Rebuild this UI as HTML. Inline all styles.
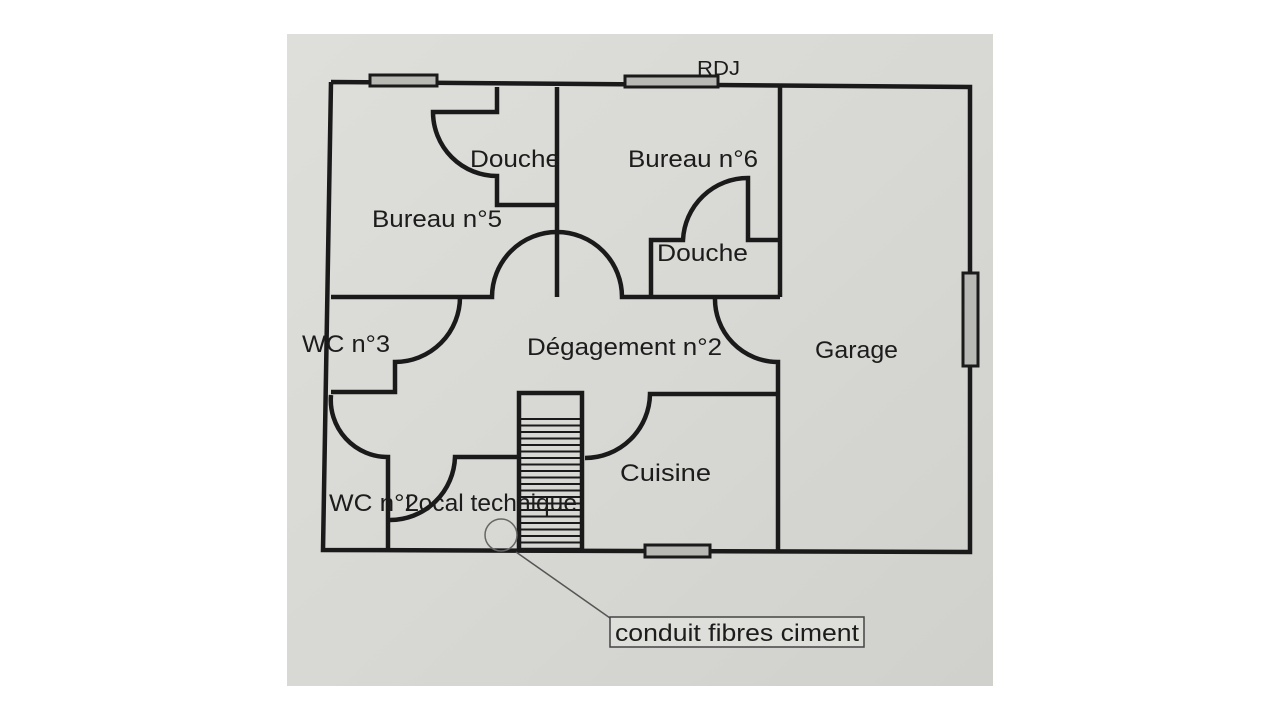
<!DOCTYPE html>
<html><head><meta charset="utf-8"><style>
html,body{margin:0;padding:0;background:#fff;width:1280px;height:720px;overflow:hidden}
svg{display:block}
text{font-family:"Liberation Sans",sans-serif;fill:#1c1c1c}
</style></head><body>
<svg width="1280" height="720" viewBox="0 0 1280 720">
<defs>
<linearGradient id="bg" x1="0" y1="0" x2="1" y2="1">
<stop offset="0" stop-color="#dededa"/><stop offset="0.5" stop-color="#d8d8d4"/><stop offset="1" stop-color="#d0d0cc"/>
</linearGradient>
</defs>
<rect x="287" y="34" width="706" height="652" fill="url(#bg)"/>
<g fill="none" stroke="#1a1a1a" stroke-width="4.5" stroke-linejoin="miter">
<path d="M331 82 L970 87 L970 552 L323 550 L331 82"/>
<path d="M557 87 L557 297"/>
<path d="M497 87 L497 112 L433 112 A64 64 0 0 0 497 176 L497 205 L557 205"/>
<path d="M331 297 L492 297 A65 65 0 0 1 622 297 L780 297"/>
<path d="M780 87 L780 297"/>
<path d="M651 297 L651 240 L683 240 A65 65 0 0 1 748 178 L748 240 L780 240"/>
<path d="M460 297 A65 65 0 0 1 395 362 L395 392 L331 392"/>
<path d="M715 297 A63 63 0 0 0 778 362 L778 552"/>
<path d="M331 395 A57 57 0 0 0 388 457 L388 550"/>
<path d="M518 457 L455 457 A65 65 0 0 1 390 520"/>
<rect x="519" y="393" width="63" height="157"/>
<path d="M777 394 L650 394 A65 65 0 0 1 585 458"/>
</g>
<g stroke="#1a1a1a" stroke-width="2">
<line x1="521" y1="419" x2="580" y2="419"/><line x1="521" y1="425.5" x2="580" y2="425.5"/>
<line x1="521" y1="432" x2="580" y2="432"/><line x1="521" y1="438.5" x2="580" y2="438.5"/>
<line x1="521" y1="445" x2="580" y2="445"/><line x1="521" y1="451.5" x2="580" y2="451.5"/>
<line x1="521" y1="458" x2="580" y2="458"/><line x1="521" y1="464.5" x2="580" y2="464.5"/>
<line x1="521" y1="471" x2="580" y2="471"/><line x1="521" y1="477.5" x2="580" y2="477.5"/>
<line x1="521" y1="484" x2="580" y2="484"/><line x1="521" y1="490.5" x2="580" y2="490.5"/>
<line x1="521" y1="497" x2="580" y2="497"/><line x1="521" y1="503.5" x2="580" y2="503.5"/>
<line x1="521" y1="510" x2="580" y2="510"/><line x1="521" y1="516.5" x2="580" y2="516.5"/>
<line x1="521" y1="523" x2="580" y2="523"/><line x1="521" y1="529.5" x2="580" y2="529.5"/>
<line x1="521" y1="536" x2="580" y2="536"/><line x1="521" y1="542.5" x2="580" y2="542.5"/>
</g>
<g fill="#b8b8b4" stroke="#1a1a1a" stroke-width="3">
<rect x="370" y="75" width="67" height="11"/>
<rect x="625" y="76" width="93" height="11"/>
<rect x="963" y="273" width="15" height="93"/>
<rect x="645" y="545" width="65" height="12"/>
</g>
<circle cx="501" cy="535" r="16" fill="none" stroke="#666" stroke-width="1.5"/>
<line x1="516" y1="552" x2="610" y2="618" stroke="#555" stroke-width="1.5"/>
<rect x="610" y="617" width="254" height="30" fill="#dededa" stroke="#444" stroke-width="1.5"/>
<g font-size="24">
<text x="697" y="75" font-size="20" textLength="43" lengthAdjust="spacingAndGlyphs">RDJ</text>
<text x="470" y="167" textLength="90" lengthAdjust="spacingAndGlyphs">Douche</text>
<text x="628" y="167" textLength="130" lengthAdjust="spacingAndGlyphs">Bureau n°6</text>
<text x="372" y="227" textLength="130" lengthAdjust="spacingAndGlyphs">Bureau n°5</text>
<text x="657" y="261" textLength="91" lengthAdjust="spacingAndGlyphs">Douche</text>
<text x="302" y="352" textLength="88" lengthAdjust="spacingAndGlyphs">WC n°3</text>
<text x="527" y="355" textLength="195" lengthAdjust="spacingAndGlyphs">Dégagement n°2</text>
<text x="815" y="358" textLength="83" lengthAdjust="spacingAndGlyphs">Garage</text>
<text x="620" y="481" textLength="91" lengthAdjust="spacingAndGlyphs">Cuisine</text>
<text x="329" y="511" textLength="90" lengthAdjust="spacingAndGlyphs">WC n°2</text>
<text x="405" y="511" textLength="172" lengthAdjust="spacingAndGlyphs">Local technique</text>
<text x="615" y="641" textLength="244" lengthAdjust="spacingAndGlyphs">conduit fibres ciment</text>
</g>
</svg>
</body></html>
